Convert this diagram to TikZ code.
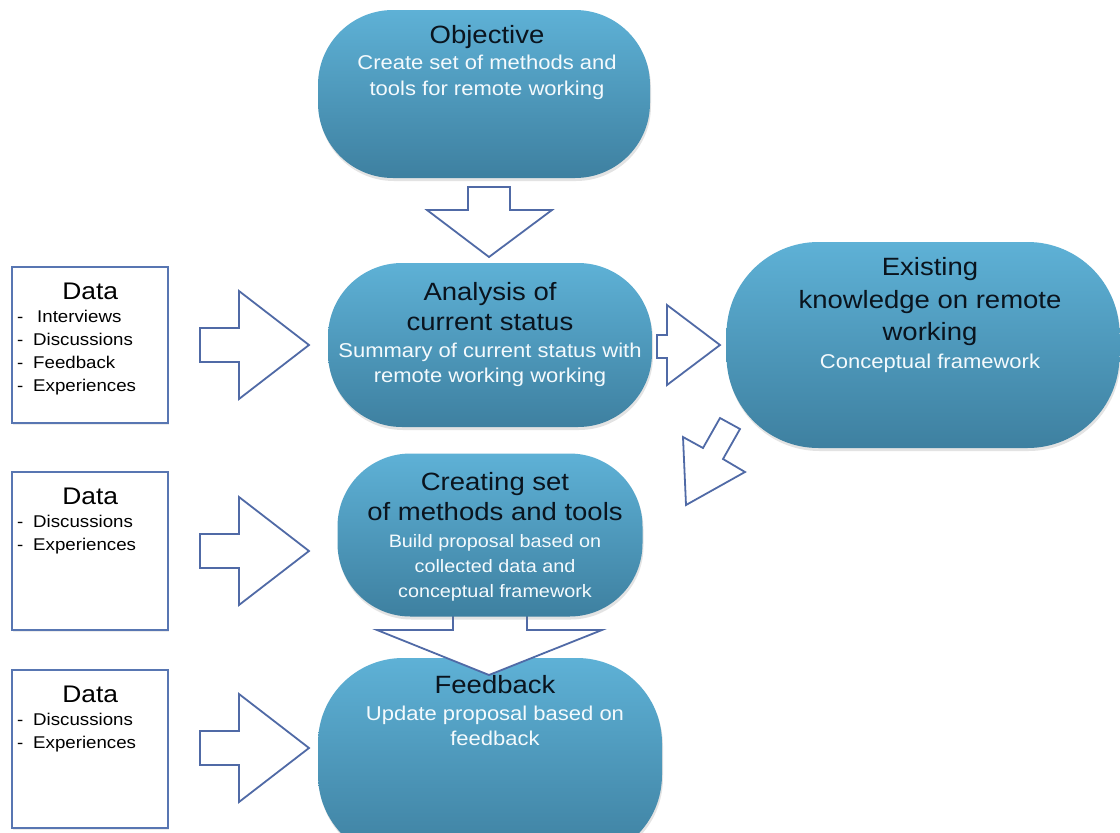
\documentclass[tikz,border=0pt]{standalone}
\usepackage{fontspec}
\setmainfont[FakeStretch=1.1]{Liberation Sans}
\usetikzlibrary{shadows}
\definecolor{arrowc}{RGB}{80,106,166}
\definecolor{boxc}{RGB}{88,118,178}
\definecolor{topc}{RGB}{94,177,214}
\definecolor{botc}{RGB}{62,128,160}
\definecolor{titlec}{RGB}{10,20,30}
\definecolor{subc}{RGB}{244,250,253}
\newcommand\ttl[1]{{\color{titlec}\fontsize{25}{25}\selectfont #1}}
\newcommand\dtl[1]{\makebox[146pt][c]{\fontsize{24}{23}\selectfont #1}}
\newcommand\itm[2][16pt]{\makebox[#1][l]{-}#2}
\tikzset{
  oval/.style={rectangle, rounded corners=#1, top color=topc, bottom color=botc,
    draw=none, inner sep=0pt,
    drop shadow={opacity=0.22, shadow xshift=1pt, shadow yshift=-3pt}},
  databox/.style={rectangle, draw=boxc, line width=2pt, fill=white, inner sep=0pt,
    drop shadow={opacity=0.15, shadow xshift=1pt, shadow yshift=-2pt}},
  blockarrow/.style={draw=arrowc, line width=1.8pt, fill=white, line join=miter},
  ovaltext/.style={align=center, inner sep=0pt, anchor=north, text=subc,
    font=\fontsize{20}{25}\selectfont},
  datatext/.style={align=left, inner sep=0pt, anchor=north west, text=black,
    font=\fontsize{17}{23}\selectfont}
}
\begin{document}
\begin{tikzpicture}[x=1pt,y=-1pt]
\useasboundingbox (0,0) rectangle (1120,833);
\fill[white] (0,0) rectangle (1120,833);
\clip (0,0) rectangle (1120,833);

% ovals
\node[oval=85pt, minimum width=344pt, minimum height=202pt] (fb) at (490,759) {};
\node[oval=75pt, minimum width=332pt, minimum height=168pt] (obj) at (484,94) {};
\node[oval=74pt, minimum width=324pt, minimum height=164pt] (ana) at (490,345) {};

% diagonal arrow (behind the existing-knowledge oval)
\draw[blockarrow] (720,418) -- (740,429) -- (723,459) -- (745,472) -- (686,505) -- (683,437) -- (703,448) -- cycle;

\node[oval=92pt, minimum width=393pt, minimum height=206pt] (ex) at (923,345) {};

% data boxes
\node[databox, minimum width=156pt, minimum height=156pt] (d1) at (90,345) {};
\node[databox, minimum width=156pt, minimum height=158pt] (d2) at (90,551) {};
\node[databox, minimum width=156pt, minimum height=158pt] (d3) at (90,749) {};

% block arrows
\draw[blockarrow] (200,328) -- (239,328) -- (239,291) -- (309,345) -- (239,399) -- (239,362) -- (200,362) -- cycle;
\draw[blockarrow] (200,534) -- (239,534) -- (239,497) -- (309,551) -- (239,605) -- (239,568) -- (200,568) -- cycle;
\draw[blockarrow] (200,731) -- (239,731) -- (239,694) -- (309,748) -- (239,802) -- (239,765) -- (200,765) -- cycle;
\draw[blockarrow] (468,187) -- (510,187) -- (510,210) -- (552,210) -- (489,257) -- (427,210) -- (468,210) -- cycle;
\draw[blockarrow] (657,335) -- (667,335) -- (667,305) -- (720,345) -- (667,385) -- (667,358) -- (657,358) -- cycle;
\draw[blockarrow] (453,600) -- (527,600) -- (527,630) -- (602,630) -- (489,675) -- (377,630) -- (453,630) -- cycle;

% creating oval on top of the shaft
\node[oval=73pt, minimum width=305pt, minimum height=163pt] (cr) at (490,535) {};

% texts
\node[ovaltext, font=\fontsize{20}{26}\selectfont] (objT) at (487,25) {\ttl{Objective}\\[0pt] Create set of methods and\\ tools for remote working};
\node[ovaltext] (anaT) at (490,282) {\ttl{Analysis of}\\[5pt]\ttl{current status}\\[2pt] Summary of current status with\\ remote working working};
\node[ovaltext] (exT) at (930,257) {\ttl{Existing}\\[8pt]\ttl{knowledge on remote}\\[7pt]\ttl{working}\\[3pt] Conceptual framework};
\node[ovaltext, font=\fontsize{18}{25}\selectfont] (crT) at (495,472) {\ttl{Creating set}\\[5pt]\ttl{of methods and tools}\\[2pt] Build proposal based on\\ collected data and\\ conceptual framework};
\node[ovaltext] (fbT) at (495,675) {\ttl{Feedback}\\[2pt] Update proposal based on\\ feedback};

\node[datatext] (d1T) at (17,283) {\dtl{Data}\\ \itm[20pt]{Interviews}\\ \itm{Discussions}\\ \itm{Feedback}\\ \itm{Experiences}};
\node[datatext] (d2T) at (17,488) {\dtl{Data}\\ \itm{Discussions}\\ \itm{Experiences}};
\node[datatext] (d3T) at (17,686) {\dtl{Data}\\ \itm{Discussions}\\ \itm{Experiences}};
\end{tikzpicture}
\end{document}
